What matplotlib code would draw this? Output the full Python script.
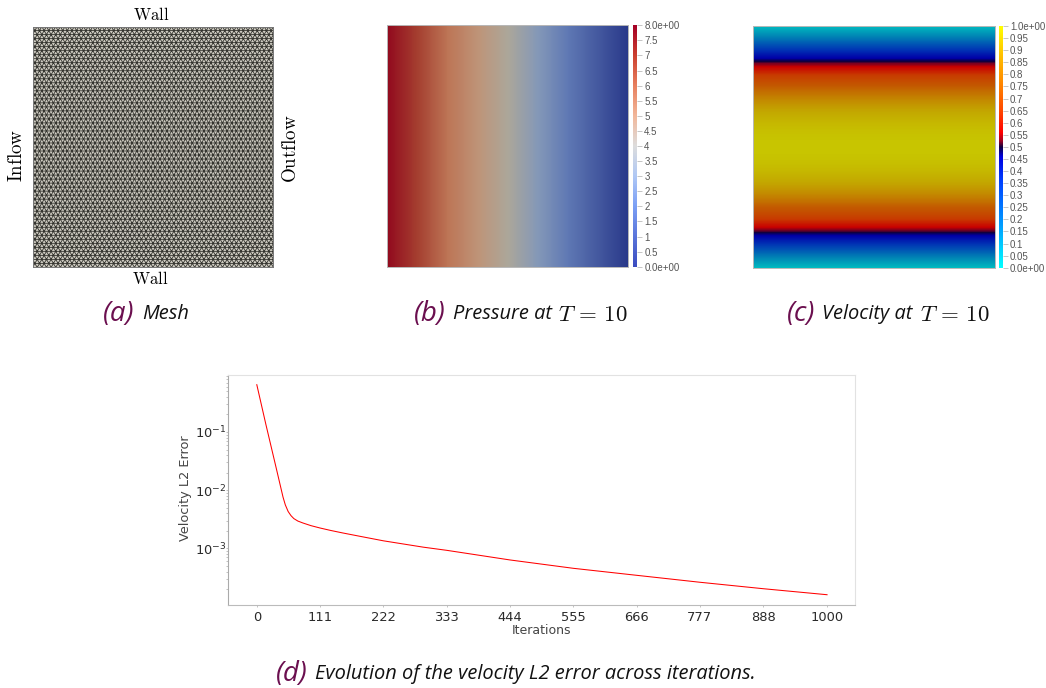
import numpy as np
import matplotlib
matplotlib.use("Agg")
import matplotlib.pyplot as plt
from matplotlib.colors import LinearSegmentedColormap
from matplotlib.ticker import LogLocator, NullFormatter

# iterations / velocity L2 error
iterations = [0, 16, 34, 46, 50, 55, 60, 65, 72, 81, 95, 111, 130, 151, 180, 222, 292, 333, 444, 555, 666, 777, 888, 1000]
l2_error = [6.5e-1, 1.34e-1, 2.41e-2, 7.6e-3, 5.6e-3, 4.3e-3, 3.65e-3, 3.25e-3, 2.95e-3, 2.73e-3, 2.46e-3, 2.24e-3,
            2.03e-3, 1.84e-3, 1.62e-3, 1.35e-3, 1.05e-3, 9.27e-4, 6.33e-4, 4.55e-4, 3.45e-4, 2.62e-4, 2.03e-4, 1.6e-4]
iter_ticks = [0, 111, 222, 333, 444, 555, 666, 777, 888, 1000]

# pressure across the channel, left to right
pressure = [8, 7, 6, 5, 4, 3, 2, 1, 0]
pressure_ticks = [0, 0.5, 1, 1.5, 2, 2.5, 3, 3.5, 4, 4.5, 5, 5.5, 6, 6.5, 7, 7.5, 8]
pressure_labels = ["0.0e+00", "0.5", "1", "1.5", "2", "2.5", "3", "3.5", "4", "4.5", "5", "5.5", "6", "6.5", "7", "7.5", "8.0e+00"]

# velocity magnitude sampled from top wall to mid channel, the lower half mirrors it
velocity_top = [0.0, 0.0975, 0.19, 0.2775, 0.36, 0.4375, 0.51, 0.5775, 0.64, 0.6975, 0.75, 0.7975, 0.84, 0.8775,
                0.91, 0.9375, 0.96, 0.9775, 0.99, 0.9975, 1.0]
velocity_ticks = [0, 0.05, 0.1, 0.15, 0.2, 0.25, 0.3, 0.35, 0.4, 0.45, 0.5, 0.55, 0.6, 0.65, 0.7, 0.75, 0.8, 0.85, 0.9, 0.95, 1]
velocity_labels = ["0.0e+00", "0.05", "0.1", "0.15", "0.2", "0.25", "0.3", "0.35", "0.4", "0.45", "0.5", "0.55", "0.6",
                   "0.65", "0.7", "0.75", "0.8", "0.85", "0.9", "0.95", "1.0e+00"]

W, H = 1046, 688
PURPLE = "#6b0f4f"
plt.rcParams["mathtext.fontset"] = "cm"


def px_axes(fig, left, top, right, bottom):
    """Axes from pixel edges measured from the top left of the picture."""
    return fig.add_axes([left / W, 1 - bottom / H, (right - left) / W, (bottom - top) / H])


def caption(fig, x_letter, x_text, y, letter, text, x_math=None, math=None):
    fig.text(x_letter / W, 1 - y / H, letter, color=PURPLE, fontsize=20, style="italic",
             family="Open Sans", va="center", ha="left")
    fig.text(x_text / W, 1 - y / H, text, color="#111111", fontsize=14.4, style="italic",
             family="Open Sans", va="center", ha="left")
    if math is not None:
        fig.text(x_math / W, 1 - (y + 0.5) / H, math, color="#111111", fontsize=16.5, va="center", ha="left")


def plot_mesh(fig):
    ax = px_axes(fig, 33.3, 27.3, 272.7, 266.7)
    rows = 60
    cols = 52
    ys = np.linspace(0, 1, rows + 1)
    xs = np.linspace(0, 1, cols + 1)
    px = []
    py = []
    for j, yy in enumerate(ys):
        shift = 0.5 / cols if j % 2 else 0
        for xx in xs:
            px.append(min(xx + shift, 1))
            py.append(yy)
    ax.set_facecolor("#cfccc2")
    ax.triplot(np.array(px), np.array(py), color="#34342f", lw=0.6)
    ax.set_xlim(0.003, 0.997)
    ax.set_ylim(0.003, 0.997)
    ax.set_xticks([])
    ax.set_yticks([])
    for s in ax.spines.values():
        s.set_color("#777777")
        s.set_linewidth(0.7)
    fig.text(151 / W, 1 - 14.5 / H, r"$\mathrm{Wall}$", fontsize=12, ha="center", va="center")
    fig.text(150.5 / W, 1 - 279.5 / H, r"$\mathrm{Wall}$", fontsize=12, ha="center", va="center")
    fig.text(16.5 / W, 1 - 155 / H, r"$\mathrm{Inflow}$", fontsize=13.7, rotation=90, ha="center", va="center")
    fig.text(290.5 / W, 1 - 149 / H, r"$\mathrm{Outflow}$", fontsize=13.7, rotation=90, ha="center", va="center")


def scalar_bar(fig, left, top, right, bottom, cmap, lo, hi, ticks, labels):
    cax = px_axes(fig, left, top, right, bottom)
    cax.imshow(np.linspace(hi, lo, 256)[:, None], cmap=cmap, vmin=lo, vmax=hi, aspect="auto",
               extent=[0, 1, lo, hi])
    cax.set_xticks([])
    cax.yaxis.tick_right()
    cax.set_yticks(ticks)
    cax.set_yticklabels(labels, family="Liberation Sans", fontsize=7, color="#555555")
    cax.tick_params(axis="y", length=3.5, width=0.6, color="#bbbbbb", pad=1.5)
    for s in cax.spines.values():
        s.set_visible(False)


def plot_pressure(fig):
    image_cmap = LinearSegmentedColormap.from_list("p_img", [
        (0, "#29388a"), (0.25, "#5f78b4"), (0.375, "#8498b8"), (0.5, "#aca79a"),
        (0.625, "#bf9478"), (0.75, "#bd7556"), (0.875, "#a53f30"), (1, "#920a1e")])
    bar_cmap = LinearSegmentedColormap.from_list("p_bar", [
        (0, "#3b4cc0"), (0.25, "#7b9ff5"), (0.375, "#b0c8f5"), (0.5, "#dddddd"),
        (0.625, "#f2b79a"), (0.75, "#e8805f"), (0.875, "#cc4030"), (1, "#a50026")])
    ax = px_axes(fig, 387.3, 25.3, 628.3, 266.7)
    half = 0.5 / (len(pressure) - 1)
    ax.imshow([pressure], cmap=image_cmap, vmin=0, vmax=8, aspect="auto",
              interpolation="bilinear", interpolation_stage="data", extent=[-half, 1 + half, 0, 1])
    ax.set_xlim(0, 1)
    ax.set_xticks([])
    ax.set_yticks([])
    for s in ax.spines.values():
        s.set_color("#b8b8b8")
        s.set_linewidth(0.7)
    scalar_bar(fig, 633.3, 25.3, 637.3, 266.7, bar_cmap, 0, 8, pressure_ticks, pressure_labels)


def plot_velocity(fig):
    nodes = [0, 0.17, 0.36, 0.46, 0.5, 0.525, 0.56, 0.65, 0.75, 0.91, 1]
    image_cmap = LinearSegmentedColormap.from_list("v_img", list(zip(nodes, [
        "#00bcc0", "#0082b4", "#0032b4", "#0000a8", "#0a0040", "#7a0020", "#c80000",
        "#c83c00", "#c35a00", "#c3a500", "#c8c500"])))
    bar_cmap = LinearSegmentedColormap.from_list("v_bar", list(zip(nodes, [
        "#00ffff", "#00a0ff", "#0040ff", "#0000e0", "#100040", "#a00020", "#ff0000",
        "#ff4800", "#ff8000", "#ffd000", "#ffff00"])))
    velocity = np.array(velocity_top + velocity_top[-2::-1])
    ax = px_axes(fig, 753.3, 26, 995, 267.7)
    half = 0.5 / (len(velocity) - 1)
    ax.imshow(velocity[:, None], cmap=image_cmap, vmin=0, vmax=1, aspect="auto",
              interpolation="bilinear", interpolation_stage="data", extent=[0, 1, -half, 1 + half])
    ax.set_ylim(0, 1)
    ax.set_xticks([])
    ax.set_yticks([])
    for s in ax.spines.values():
        s.set_color("#b8b8b8")
        s.set_linewidth(0.7)
    scalar_bar(fig, 999, 26, 1003, 267.7, bar_cmap, 0, 1, velocity_ticks, velocity_labels)


def plot_error(fig):
    ax = px_axes(fig, 228, 375, 855, 605)
    ax.semilogy(iterations, l2_error, color="red", lw=0.75)
    ax.set_xlim(-50.5, 1049)
    ax.set_ylim(10 ** (-1 - (605 - 432) / 58.2), 10 ** (-1 + (432 - 375) / 58.2))
    ax.set_xticks(iter_ticks)
    ax.yaxis.set_major_locator(LogLocator(base=10, numticks=10))
    ax.yaxis.set_minor_locator(LogLocator(base=10, subs=np.arange(2, 10), numticks=10))
    ax.yaxis.set_minor_formatter(NullFormatter())
    ax.tick_params(axis="x", which="major", labelsize=9.4, labelcolor="#2a2a2a", length=1.5, width=0.5,
                   color="#aaaaaa", pad=2.5)
    ax.tick_params(axis="y", which="major", labelsize=9.4, labelcolor="#2a2a2a", length=1.5, width=0.5,
                   color="#aaaaaa", pad=0)
    ax.tick_params(axis="y", which="minor", length=1.5, width=0.5, color="#aaaaaa")
    ax.set_xlabel("Iterations", fontsize=9, color="#444444", labelpad=0.5)
    ax.set_ylabel("Velocity L2 Error", fontsize=9.3, color="#444444")
    ax.yaxis.set_label_coords(-0.057, 0.509)
    ax.spines["left"].set_color("#aaaaaa")
    ax.spines["bottom"].set_color("#bbbbbb")
    ax.spines["top"].set_color("#e2e2e2")
    ax.spines["right"].set_color("#e2e2e2")


if __name__ == "__main__":
    fig = plt.figure(figsize=(W / 100, H / 100), dpi=100, facecolor="white")
    plot_mesh(fig)
    plot_pressure(fig)
    plot_velocity(fig)
    plot_error(fig)
    caption(fig, 103, 142, 314, "(a)", "Mesh")
    caption(fig, 414, 453, 314, "(b)", "Pressure at", 558, r"$T\,=\,10$")
    caption(fig, 787, 822, 314, "(c)", "Velocity at", 920, r"$T\,=\,10$")
    caption(fig, 276, 315, 674, "(d)", "Evolution of the velocity L2 error across iterations.")
    fig.savefig("out.png", dpi=100)
